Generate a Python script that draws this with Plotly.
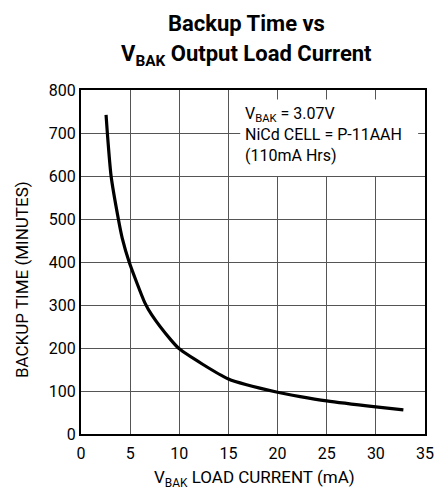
import plotly.graph_objects as go

# backup time curve
load_ma = [2.55, 2.68, 3.06, 3.8, 4.2, 4.9, 6.5, 7.2, 9.1, 10, 15, 20, 22.3, 25, 30, 32.8]
backup_min = [742, 700, 600, 500, 455, 400, 305, 277, 220, 198, 128, 97, 87, 77, 63, 56]

x_ticks = [0, 5, 10, 15, 20, 25, 30, 35]
y_ticks = [0, 100, 200, 300, 400, 500, 600, 700, 800]

FONT = "Roboto, Liberation Sans, sans-serif"

fig = go.Figure()
fig.add_trace(go.Scatter(
    x=load_ma, y=backup_min,
    mode="lines",
    line=dict(color="black", width=3.2, shape="spline", smoothing=0.6),
    showlegend=False,
))

# white note box over the grid
fig.add_shape(
    type="rect", xref="x", yref="y",
    x0=16.2, x1=34.3, y0=600, y1=778,
    fillcolor="white", line_width=0, layer="above",
)
fig.add_annotation(
    x=16.5, y=772, xref="x", yref="y",
    xanchor="left", yanchor="top", align="left",
    text="V<sub>BAK</sub> = 3.07V<br>NiCd CELL = P-11AAH<br>(110mA Hrs)",
    showarrow=False,
    font=dict(family=FONT, size=16, color="black"),
)

# titles placed as annotations so the plot area stays fixed
fig.add_annotation(
    x=0.48, y=1.192, xref="paper", yref="paper",
    xanchor="center", yanchor="middle", showarrow=False,
    text="<b>Backup Time vs</b>",
    font=dict(family=FONT, size=22, color="black"),
)
fig.add_annotation(
    x=0.48, y=1.10, xref="paper", yref="paper",
    xanchor="center", yanchor="middle", showarrow=False,
    text="<b>V<sub>BAK</sub> Output Load Current</b>",
    font=dict(family=FONT, size=22, color="black"),
)
fig.add_annotation(
    x=-0.172, y=0.45, xref="paper", yref="paper",
    xanchor="center", yanchor="middle", showarrow=False, textangle=-90,
    text="BACKUP TIME (MINUTES)",
    font=dict(family=FONT, size=17, color="black"),
)
fig.add_annotation(
    x=0.503, y=-0.128, xref="paper", yref="paper",
    xanchor="center", yanchor="middle", showarrow=False,
    text="V<sub>BAK</sub> LOAD CURRENT (mA)",
    font=dict(family=FONT, size=17, color="black"),
)

# page body keeps an 8px margin, so the figure is 8px smaller each way
fig.update_layout(
    width=435, height=481,
    margin=dict(l=73, r=18, t=82, b=55, autoexpand=False),
    paper_bgcolor="white", plot_bgcolor="white",
    font=dict(family=FONT, color="black"),
    xaxis=dict(
        range=[0, 35], tickvals=x_ticks, automargin=False,
        showgrid=True, gridcolor="#555", gridwidth=1,
        showline=True, linecolor="black", linewidth=2, mirror=True,
        zeroline=False, ticks="", tickfont=dict(size=16), ticklabelstandoff=4,
    ),
    yaxis=dict(
        range=[0, 800], tickvals=y_ticks, automargin=False,
        showgrid=True, gridcolor="#555", gridwidth=1,
        showline=True, linecolor="black", linewidth=2, mirror=True,
        zeroline=False, ticks="", tickfont=dict(size=16),
    ),
)

fig.write_html("out.html")
